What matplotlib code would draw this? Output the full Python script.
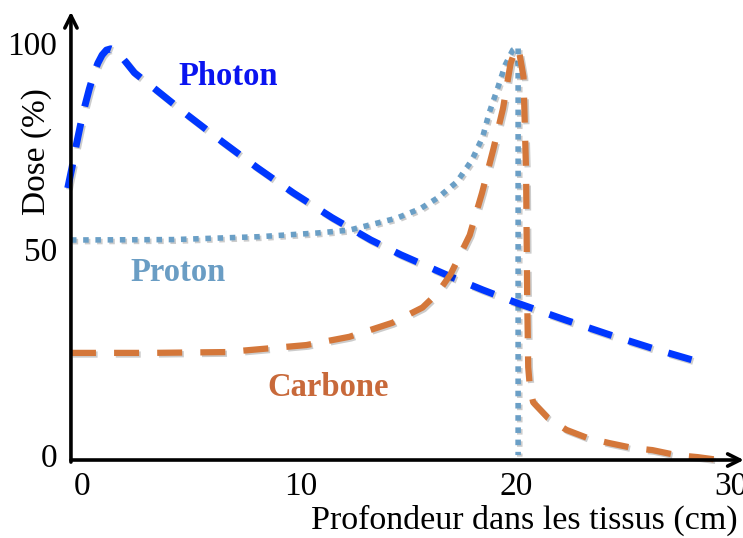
import matplotlib.pyplot as plt
import matplotlib.patheffects as pe

# depth (cm) and relative dose (%)
PHOTON_X = [-0.9, -0.7, -0.5, -0.3, -0.1, 0.1, 0.3, 0.5, 0.7, 0.9, 1.1, 1.3,
            1.5, 1.8, 2.2, 3.1, 4.65, 6.3, 7.9, 9.6, 11.4, 13.2, 14.6, 17.0,
            18.4, 19.9, 22.3, 24.3, 26.3, 28.8]
PHOTON_Y = [66, 71, 76.5, 81.5, 86, 90, 93.5, 96.3, 98.3, 99.5, 99.8, 99.4,
            98.5, 96.6, 94, 90.3, 83.8, 77.2, 71, 64.8, 58.8, 53.4, 49.8, 44.3,
            41.3, 38.3, 33.9, 30.4, 27.1, 23.3]

PROTON_X = [-0.75, 4.0, 8.0, 10.7, 12.2, 14.4, 15.5, 16.3, 17.2, 17.9, 18.4,
            18.7, 19.1, 19.45, 19.8, 20.05, 20.05]
PROTON_Y = [53.4, 53.5, 54.2, 55.1, 55.8, 58.7, 61, 63.6, 67.5, 72.8, 78.4,
            84.2, 90.3, 95.9, 99.5, 100.2, 1.2]

CARBON_X = [-0.75, 3.0, 6.5, 10.2, 12.2, 14.2, 15.6, 16.3, 16.9, 17.35, 17.8,
            18.1, 18.37, 18.9, 19.35, 19.7, 19.95, 20.1, 20.3, 20.42, 20.47,
            20.52, 20.6, 20.75, 21.44, 22.3, 23.3, 24.3, 25.4, 26.3, 27.4,
            28.4, 29.4]
CARBON_Y = [26, 26, 26.2, 27.9, 29.9, 33.3, 37, 40.5, 45, 49.8, 54.6,
            60, 64.8, 75.5, 85.4, 96.3, 100, 99, 93, 70, 40,
            22.5, 17.5, 14, 10.2, 7.3, 5.3, 4.1, 2.9, 2.4, 1.2,
            0.7, 0]

X_TICKS = [0, 10, 20, 30]
Y_TICKS = [0, 50, 100]

plt.rcParams["font.family"] = ["Liberation Serif", "DejaVu Serif"]

fig = plt.figure(figsize=(7.43, 5.38), dpi=100)
ax = fig.add_axes([0, 0, 1, 1])
ax.set_xlim(-4.05, 30.51)
ax.set_ylim(-18.93, 111.65)
ax.axis("off")

shadow = [pe.SimpleLineShadow(offset=(1.2, -1.2), alpha=0.2), pe.Normal()]

ax.plot(PROTON_X, PROTON_Y, color="#6a9fc6", lw=4.0, linestyle=(0, (1, 1.2)),
        dash_capstyle="butt", zorder=2, path_effects=shadow)
ax.plot(PHOTON_X, PHOTON_Y, color="#0037ff", lw=5.0, linestyle=(0, (3.5, 2.5)),
        dash_capstyle="butt", zorder=3, path_effects=shadow)
ax.plot(CARBON_X, CARBON_Y, color="#d4773a", lw=4.5, linestyle=(0, (4, 2.9)),
        dash_capstyle="butt", zorder=4, path_effects=shadow)

# axes with arrow heads
arrow = dict(arrowstyle="->", lw=2.6, color="black", mutation_scale=22,
             shrinkA=0, shrinkB=0)
ax.annotate("", xy=(30.55, 0), xytext=(-0.75, 0), arrowprops=arrow,
            annotation_clip=False, zorder=5)
ax.annotate("", xy=(-0.75, 108.8), xytext=(-0.75, -0.5), arrowprops=arrow,
            annotation_clip=False, zorder=5)

for t in X_TICKS:
    xpos = -0.23 if t == 0 else t - 0.05
    ax.text(xpos, -6.6, str(t), ha="center", va="center", fontsize=24)
for t in Y_TICKS:
    ax.text(-1.4, t + 0.3, str(t), ha="right", va="center", fontsize=24)

ax.text(30.25, -14.6, "Profondeur dans les tissus (cm)", ha="right",
        va="center", fontsize=24.5)
ax.text(-2.33, 74.8, "Dose (%)", rotation=90, ha="center", va="center",
        fontsize=24)

ax.text(6.56, 93.0, "Photon", color="#0a14f0", fontsize=23.5,
        fontweight="bold", ha="center", va="center")
ax.text(4.23, 45.6, "Proton", color="#6a9dc4", fontsize=23.5,
        fontweight="bold", ha="center", va="center")
ax.text(11.2, 17.5, "Carbone", color="#c8693a", fontsize=23.5,
        fontweight="bold", ha="center", va="center")

fig.savefig("out.png", dpi=100)
